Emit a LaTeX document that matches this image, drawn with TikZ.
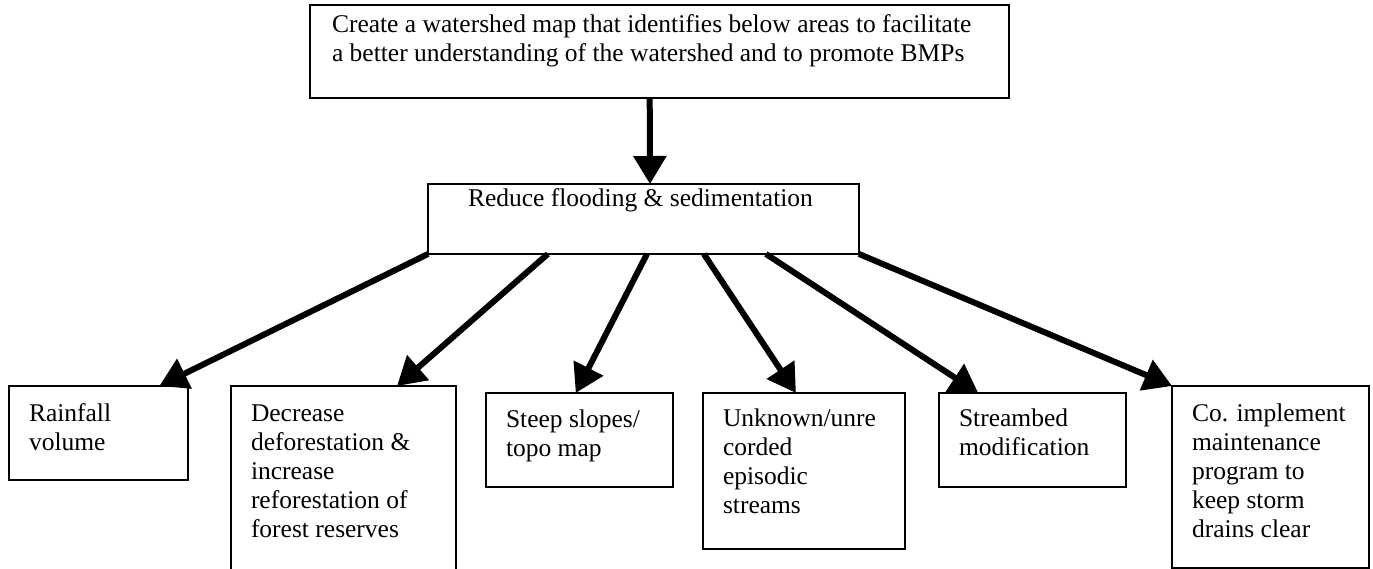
\documentclass[tikz,border=0pt]{standalone}
\usepackage{fontspec}
\setmainfont{Liberation Serif}
\usetikzlibrary{arrows.meta,calc}
\tikzset{
  box/.style={draw, line width=2pt, anchor=north west, inner xsep=20pt, inner ysep=0pt, outer sep=0pt, font=\fontsize{25.5}{29}\selectfont},
  conn/.style={line width=6pt, -{Triangle[width=32pt,length=28pt]}}
}
\newcommand\boxtext[4]{\parbox[t][#2][t]{#1}{\raggedright\rule{0pt}{#3}#4}}
\begin{document}
\begin{tikzpicture}[x=1pt,y=-1pt]
\path[use as bounding box] (0,0) rectangle (1373,569);
\clip (0,0) rectangle (1373,569);
\fill[white] (0,0) rectangle (1373,569);
% boxes
\node[box, inner xsep=22pt] (top) at (310,5) {\boxtext{655pt}{93pt}{28pt}{Create a watershed map that identifies below areas to facilitate\\a better understanding of the watershed and to promote BMPs}};
\node[box, inner xsep=40pt] (mid) at (428,184) {\boxtext{351pt}{70pt}{23pt}{Reduce flooding \& sedimentation}};
\node[box] (rain) at (9,386) {\boxtext{139pt}{94pt}{35pt}{Rainfall\\volume}};
\node[box] (dec) at (231,386) {\boxtext{185pt}{194pt}{35pt}{Decrease\\deforestation \&\\increase\\reforestation of\\forest reserves}};
\node[box] (steep) at (486,393) {\boxtext{147pt}{94pt}{34pt}{Steep slopes/\\topo map}};
\node[box] (unk) at (703,393) {\boxtext{162pt}{156pt}{33pt}{Unknown/unre\\corded\\episodic\\streams}};
\node[box] (stream) at (939,393) {\boxtext{147pt}{94pt}{33pt}{Streambed\\modification}};
\node[box] (co) at (1172,386) {\boxtext{157pt}{182pt}{35pt}{Co. implement\\maintenance\\program to\\keep storm\\drains clear}};
% connectors
\draw[conn] ($(top.south west)!0.486!(top.south east)$) -- ($(mid.north west)!0.515!(mid.north east)$);
\draw[conn] (mid.south west) -- ($(rain.north west)!0.84!(rain.north east)$);
\draw[conn] ($(mid.south west)!0.278!(mid.south east)$) -- ($(dec.north west)!0.738!(dec.north east)$);
\draw[conn] ($(mid.south west)!0.508!(mid.south east)$) -- ($(steep.north west)!0.48!(steep.north east)$);
\draw[conn] ($(mid.south west)!0.64!(mid.south east)$) -- ($(unk.north west)!0.46!(unk.north east)$);
\draw[conn] ($(mid.south west)!0.784!(mid.south east)$) -- ($(stream.north west)!0.21!(stream.north east)$);
\draw[conn] (mid.south east) -- (co.north west);
\end{tikzpicture}
\end{document}
